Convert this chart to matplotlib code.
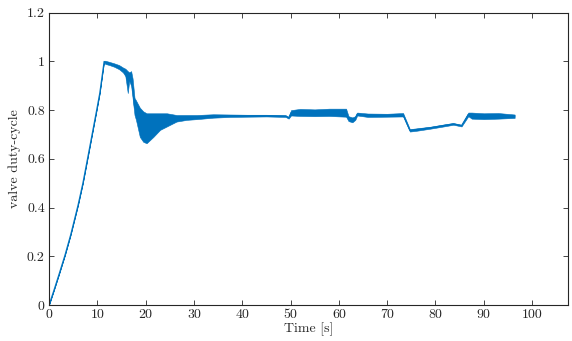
import numpy as np
import matplotlib
matplotlib.use('Agg')
import matplotlib.pyplot as plt

# envelope of the valve duty-cycle signal
time_s = [0, 1, 2, 3.3, 4.5, 6, 7, 8.1, 9, 9.9, 10.5, 11.4,
          11.6, 12.5, 13.5, 14.5, 15.3, 15.8, 16.3, 16.6, 17.0, 17.3, 17.7,
          18.0, 18.8, 19.5, 20.2, 21.6, 23, 24.4, 26.4, 28.5, 30.6, 34, 37.5,
          41, 45, 49, 49.6, 50.1, 52, 55, 58, 61.5, 62.0, 62.8, 63.4, 63.8,
          66, 70, 73.3, 74.7, 76, 79, 82.3, 83.7, 85.4, 86.8, 87.5, 90, 93, 96.4]
duty_low = [0, 0.06, 0.122, 0.205, 0.29, 0.41, 0.5, 0.615, 0.71, 0.805, 0.87, 1.0,
            0.99, 0.985, 0.978, 0.968, 0.955, 0.94, 0.87, 0.92, 0.9, 0.85, 0.78,
            0.76, 0.69, 0.67, 0.664, 0.69, 0.719, 0.733, 0.753, 0.76, 0.763, 0.769, 0.772,
            0.773, 0.774, 0.772, 0.765, 0.778, 0.776, 0.775, 0.776, 0.773, 0.755, 0.75, 0.76, 0.778,
            0.772, 0.773, 0.774, 0.712, 0.715, 0.724, 0.735, 0.74, 0.733, 0.775, 0.765, 0.763, 0.765, 0.768]
duty_high = [0, 0.06, 0.122, 0.205, 0.29, 0.41, 0.5, 0.615, 0.71, 0.805, 0.87, 1.0,
             1.003, 0.998, 0.992, 0.985, 0.975, 0.97, 0.96, 0.955, 0.96, 0.93, 0.85,
             0.84, 0.81, 0.795, 0.787, 0.787, 0.787, 0.787, 0.78, 0.78, 0.78, 0.783, 0.782,
             0.781, 0.781, 0.779, 0.772, 0.8, 0.805, 0.803, 0.806, 0.806, 0.775, 0.77, 0.775, 0.79,
             0.786, 0.785, 0.788, 0.722, 0.725, 0.732, 0.743, 0.747, 0.74, 0.79, 0.79, 0.787, 0.788, 0.782]

xticks = [0, 10, 20, 30, 40, 50, 60, 70, 80, 90, 100]
yticks = [0, 0.2, 0.4, 0.6, 0.8, 1, 1.2]
ytick_labels = ['0', '0.2', '0.4', '0.6', '0.8', '1', '1.2']

plt.rcParams['font.family'] = ['cmr10', 'DejaVu Serif']
plt.rcParams['axes.formatter.use_mathtext'] = True

line_color = '#0072BD'
axis_color = '#262626'

fig = plt.figure(figsize=(5.72, 3.41), dpi=100)
ax = fig.add_axes([0.0857, 0.1056, 0.9078, 0.8572])

t = np.array(time_s)
lo = np.array(duty_low)
hi = np.array(duty_high)
ax.fill_between(t, lo, hi, color=line_color, linewidth=0.4)
ax.plot(t, (lo + hi) / 2, color=line_color, linewidth=0.8)

ax.set_xlim(0, 107.5)
ax.set_ylim(0, 1.2)
ax.set_xticks(xticks)
ax.set_xticklabels([str(v) for v in xticks])
ax.set_yticks(yticks)
ax.set_yticklabels(ytick_labels)

ax.tick_params(direction='in', length=3.5, width=0.6, top=True, right=True,
               colors=axis_color, labelsize=10, pad=3)
for sp in ax.spines.values():
    sp.set_color(axis_color)
    sp.set_linewidth(0.8)

ax.set_xlabel('Time [s]', fontsize=10, color=axis_color, labelpad=1)
ax.set_ylabel('valve duty-cycle', fontsize=10, color=axis_color, labelpad=4)

fig.savefig('out.png', dpi=100)
